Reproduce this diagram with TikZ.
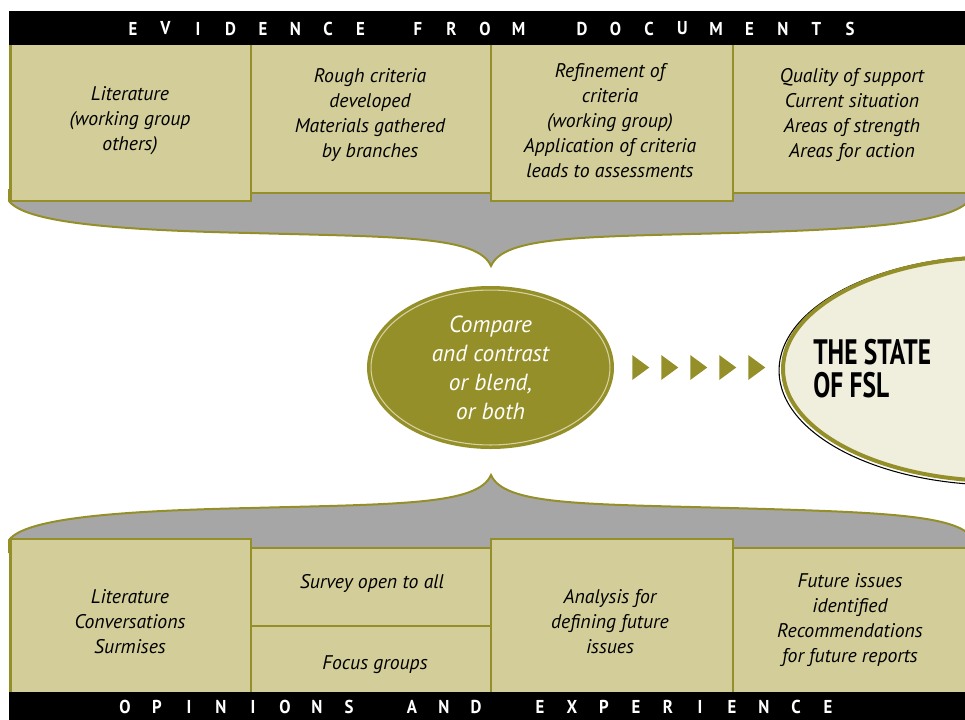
\documentclass[tikz,border=0pt]{standalone}
\usepackage{fontspec}
\setmainfont{PT Sans}
\newfontfamily\titlefont[FakeStretch=0.72]{PT Sans}
\newfontfamily\barfont[FakeStretch=0.9]{PT Sans}
\usetikzlibrary{shapes.geometric,positioning,calc}
\definecolor{fslolive}{RGB}{149,143,42}
\definecolor{fslkhaki}{RGB}{211,206,153}
\definecolor{fslgray}{RGB}{166,166,166}
\definecolor{fslcream}{RGB}{240,238,221}
\definecolor{fslring}{RGB}{214,210,160}

\begin{document}
\begin{tikzpicture}[x=0.75pt,y=-0.75pt]
\tikzstyle{brace}=[fill=fslgray, draw=fslolive, line width=1.5pt]
\tikzstyle{box}=[fill=fslkhaki, draw=fslolive, line width=2.2pt]
\tikzstyle{boxtext}=[align=center, inner sep=0pt, font=\fontsize{14.8}{18.75}\selectfont\itshape]
\tikzstyle{barletter}=[text=white, inner sep=0pt, font=\fontsize{14}{16}\selectfont\barfont\bfseries]
\tikzstyle{cmpell}=[ellipse, fill=fslolive, inner sep=0pt, minimum width=185.25pt, minimum height=122.25pt,
  align=center, text=white, font=\fontsize{17.5}{21.75}\selectfont\itshape]
\tikzstyle{fslell}=[ellipse, fill=fslcream, draw=fslolive, line width=3pt, inner sep=0pt,
  minimum width=325.5pt, minimum height=168pt]
\tikzstyle{statetext}=[align=left, inner sep=0pt, font=\fontsize{26.5}{24.75}\selectfont\titlefont\bfseries]

\useasboundingbox (0,0) rectangle (965,719);
\clip (0,0) rectangle (965,719);

\filldraw[brace] (9,190) -- (9,201) .. controls (25,222) and (110,230) .. (250,233)
  .. controls (400,237) and (478,236) .. (491,266)
  .. controls (504,236) and (582,237) .. (730,233)
  .. controls (880,229) and (950,222) .. (970,200) -- (970,190) -- cycle;
\filldraw[brace] (9,552) -- (9,540) .. controls (25,519) and (110,511) .. (250,508)
  .. controls (400,504) and (478,505) .. (491,475)
  .. controls (504,505) and (582,504) .. (730,508)
  .. controls (880,512) and (950,515) .. (970,535) -- (970,552) -- cycle;

\foreach \xa/\xb/\yb in {10.5/251/201, 251/491/193, 491/733/201, 733/980/193} {
\draw[box] (\xa,40) rectangle (\xb,\yb);
}
\foreach \xa/\xb/\ya in {10.5/251/539, 251/491/548, 491/733/539, 733/980/548, 251/491/626} {
\draw[box] (\xa,\ya) rectangle (\xb,705);
}

\fill[black] (9,11) rectangle (980,45);
\fill[black] (9,692) rectangle (980,730);
\foreach \w/\x/\y/\s in {{E,V,I,D,E,N,C,E}/133/28.5/32.5, {F,R,O,M}/418/28.5/33.5,
    {D,O,C,U,M,E,N,T,S}/582/28.5/33.5, {O,P,I,N,I,O,N,S}/125/707/32,
    {A,N,D}/412/707/32, {E,X,P,E,R,I,E,N,C,E}/540/707/32} {
\foreach \l [count=\i from 0] in \w {
\node[barletter] (bar-\x-\y-\i) at (\x+\s*\i,\y) {\l};
}
}

\node[boxtext] (lit) at (130,121) {Literature\\(working group\\others)};
\node[boxtext] (rough) at (370,115) {Rough criteria\\developed\\Materials gathered\\by branches};
\node[boxtext] (refine) at (610,120.5) {Refinement of\\criteria\\(working group)\\Application of criteria\\leads to assessments};
\node[boxtext] (quality) at (852,115) {Quality of support\\Current situation\\Areas of strength\\Areas for action};

\node[boxtext] (litconv) at (130,622) {Literature\\Conversations\\Surmises};
\node[boxtext] (survey) at (372,583) {Survey open to all};
\node[boxtext] (focus) at (375,665) {Focus groups};
\node[boxtext] (analysis) at (610,622) {Analysis for\\defining future\\issues};
\node[boxtext] (future) at (850,620.5) {Future issues\\identified\\Recommendations\\for future reports};

\node[cmpell] (cmp) at (490.5,367.5) {Compare\\and contrast\\or blend,\\or both};
\draw[fslring, line width=0.8pt] (cmp.center) ellipse [x radius=89.6pt, y radius=58.1pt];

\draw[black, line width=0.8pt] ($(1000,369)+(-1.5,1.5)$) ellipse [x radius=164.6pt, y radius=85.9pt];
\node[fslell] (fsl) at (1000,369) {};
\node[statetext, right=24pt of fsl.west] (fsltxt) {THE STATE\\OF FSL};

\foreach \i in {0,...,4} {
\fill[fslolive] ($(cmp.east)+(18+29*\i,-12.5)$) -- ++(17,12.5) -- ++(-17,12.5) -- cycle;
}

\end{tikzpicture}
\end{document}
